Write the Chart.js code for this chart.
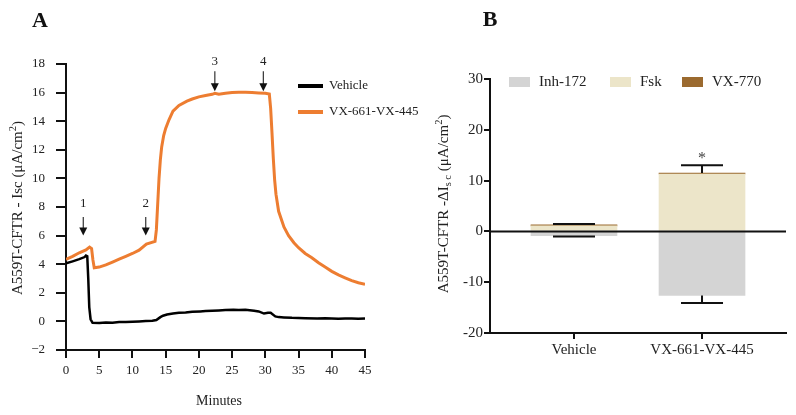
<!DOCTYPE html>
<html>
<head>
<meta charset="utf-8">
<script src="https://cdn.jsdelivr.net/npm/chart.js@4.4.1/dist/chart.umd.min.js"></script>
<style>
  html, body { margin:0; padding:0; background:#fff; }
  body { width:796px; height:415px; position:relative; overflow:hidden; }
  #cA { position:absolute; left:0; top:0; }
  #cB { position:absolute; left:400px; top:0; }
</style>
</head>
<body>
<canvas id="cA" width="430" height="415"></canvas>
<canvas id="cB" width="396" height="415"></canvas>
<script>
/* global Chart */
const SERIF = '"Liberation Serif", "Times New Roman", serif';

// ---- panel A: Isc traces (minutes, uA/cm2) ----
const vehMin = [0, 1, 2, 2.8, 3.0, 3.2, 3.35, 3.5, 3.7, 4.0, 5, 6, 7, 8, 9, 10, 11, 12, 13, 13.6, 14.2, 14.6, 15.2, 16.1, 17, 18, 19, 20.2, 21, 22, 23, 24, 25.2, 26, 27, 28.3, 29, 29.8, 30.4, 30.8, 31.5, 32, 32.8, 34, 35, 36, 37.8, 39, 40, 41, 42, 43, 44, 45];
const vehIsc = [4.06, 4.2, 4.35, 4.5, 4.6, 4.55, 3.0, 1.0, 0.15, -0.1, -0.12, -0.08, -0.1, -0.05, -0.04, -0.02, 0.0, 0.02, 0.05, 0.1, 0.3, 0.4, 0.48, 0.55, 0.6, 0.63, 0.68, 0.7, 0.72, 0.74, 0.77, 0.79, 0.82, 0.8, 0.82, 0.75, 0.7, 0.55, 0.6, 0.6, 0.35, 0.3, 0.28, 0.25, 0.24, 0.22, 0.2, 0.22, 0.2, 0.18, 0.2, 0.2, 0.19, 0.2];

const vxMin = [0, 1, 2, 3, 3.55, 3.85, 4.05, 4.25, 5, 6, 7, 8, 9, 10, 11, 12.1, 13.4, 13.6, 13.8, 14.0, 14.2, 14.4, 14.7, 15.0, 15.5, 16.1, 17, 18.2, 19, 20, 21, 22, 22.4, 23, 24, 25, 26, 27, 28, 29, 30, 30.6, 30.8, 31.0, 31.2, 31.4, 31.6, 32, 32.8, 33.5, 34.3, 35, 36, 37, 38, 39, 40, 41, 42, 43, 44, 45];
const vxIsc = [4.34, 4.55, 4.8, 5.0, 5.2, 5.1, 4.3, 3.75, 3.8, 3.95, 4.15, 4.35, 4.55, 4.75, 4.98, 5.4, 5.6, 6.4, 8.2, 10.0, 11.3, 12.2, 13.0, 13.5, 14.1, 14.7, 15.1, 15.4, 15.55, 15.7, 15.8, 15.88, 15.95, 15.88, 15.95, 16.0, 16.02, 16.02, 16.0, 15.98, 15.96, 15.9, 14.9, 13.2, 11.4, 9.9, 8.9, 7.7, 6.6, 6.0, 5.5, 5.15, 4.75, 4.45, 4.1, 3.8, 3.5, 3.25, 3.05, 2.85, 2.7, 2.6];

const arrowMin   = [2.6, 12.0, 22.4, 29.7];
const arrowTop   = [7.3, 7.3, 17.5, 17.5];
const arrowTip   = [6.0, 6.0, 16.1, 16.1];
const arrowLabel = ['1', '2', '3', '4'];
const arrowLabelY = [8.25, 8.25, 18.2, 18.2];

// ---- panel B: delta Isc bars ----
const groupX     = [1, 2];
const groupNames = ['Vehicle', 'VX-661-VX-445'];
const inhVals    = [-0.85, -12.6];
const fskVals    = [1.1, 11.3];
const vx770Vals  = [0.2, 0.2];
const errUp      = [1.45, 13.0];
const errLow     = [-1.0, -14.1];
const starY      = [null, 14.8];

function pts(xs, ys){ return xs.map((x, i) => ({ x, y: ys[i] })); }

// draws text made of parts (normal / sup / sub), centred at x,y, optionally rotated
function richText(ctx, parts, x, y, size, rot){
  ctx.save();
  ctx.translate(x, y);
  if (rot) ctx.rotate(rot);
  let w = 0;
  parts.forEach(p => {
    ctx.font = `${p.k ? size * 0.7 : size}px ${SERIF}`;
    p.w = ctx.measureText(p.t).width;
    w += p.w;
  });
  let cx = -w / 2;
  ctx.fillStyle = '#222';
  ctx.textBaseline = 'middle';
  ctx.textAlign = 'left';
  parts.forEach(p => {
    ctx.font = `${p.k ? size * 0.7 : size}px ${SERIF}`;
    const dy = p.k === 'sup' ? -size * 0.35 : p.k === 'sub' ? size * 0.3 : 0;
    ctx.fillText(p.t, cx, dy);
    cx += p.w;
  });
  ctx.restore();
}

const overlayA = {
  id: 'overlayA',
  afterDraw(chart){
    const { ctx, scales: { x, y } } = chart;
    ctx.save();
    // arrows with numbers
    arrowMin.forEach((m, i) => {
      const px = x.getPixelForValue(m);
      const top = y.getPixelForValue(arrowTop[i]);
      const tip = y.getPixelForValue(arrowTip[i]);
      ctx.strokeStyle = '#333';
      ctx.lineWidth = 1.2;
      ctx.beginPath(); ctx.moveTo(px, top); ctx.lineTo(px, tip - 7); ctx.stroke();
      ctx.fillStyle = '#111';
      ctx.beginPath(); ctx.moveTo(px - 4, tip - 8); ctx.lineTo(px + 4, tip - 8); ctx.lineTo(px, tip); ctx.closePath(); ctx.fill();
      ctx.font = `13px ${SERIF}`;
      ctx.textAlign = 'center'; ctx.textBaseline = 'middle';
      ctx.fillStyle = '#222';
      ctx.fillText(arrowLabel[i], px, y.getPixelForValue(arrowLabelY[i]));
    });
    // legend
    chart.data.datasets.forEach((ds, i) => {
      const ly = 86 + i * 26;
      ctx.strokeStyle = ds.borderColor;
      ctx.lineWidth = 4;
      ctx.beginPath(); ctx.moveTo(298, ly); ctx.lineTo(323, ly); ctx.stroke();
      ctx.font = `13px ${SERIF}`;
      ctx.fillStyle = '#222';
      ctx.textAlign = 'left'; ctx.textBaseline = 'middle';
      ctx.fillText(ds.label, 329, ly);
    });
    // panel letter and titles
    ctx.font = `bold 22px ${SERIF}`;
    ctx.fillStyle = '#111';
    ctx.textAlign = 'center'; ctx.textBaseline = 'alphabetic';
    ctx.fillText('A', 40, 27);
    ctx.font = `14px ${SERIF}`;
    ctx.fillStyle = '#222';
    ctx.textBaseline = 'middle';
    ctx.fillText('Minutes', 219, 401);
    ctx.restore();
    richText(ctx, [{ t: 'A559T-CFTR - Isc (\u03bcA/cm' }, { t: '2', k: 'sup' }, { t: ')' }], 18, 208, 15, -Math.PI / 2);
  }
};

const overlayB = {
  id: 'overlayB',
  afterDatasetsDraw(chart){
    const { ctx, chartArea, scales: { x, y } } = chart;
    ctx.save();
    // zero line across the bars
    const y0 = y.getPixelForValue(0);
    ctx.strokeStyle = '#111';
    ctx.lineWidth = 2;
    ctx.beginPath(); ctx.moveTo(chartArea.left, y0); ctx.lineTo(chartArea.right, y0); ctx.stroke();
    // error bars (SEM)
    groupX.forEach((g, i) => {
      const px = x.getPixelForValue(g);
      const topBar = y.getPixelForValue(fskVals[i] + vx770Vals[i]);
      const botBar = y.getPixelForValue(inhVals[i]);
      const up = y.getPixelForValue(errUp[i]);
      const lo = y.getPixelForValue(errLow[i]);
      ctx.beginPath();
      ctx.moveTo(px, topBar); ctx.lineTo(px, up);
      ctx.moveTo(px - 21, up); ctx.lineTo(px + 21, up);
      ctx.moveTo(px, botBar); ctx.lineTo(px, lo);
      ctx.moveTo(px - 21, lo); ctx.lineTo(px + 21, lo);
      ctx.stroke();
      if (starY[i] != null){
        ctx.font = `16px ${SERIF}`;
        ctx.fillStyle = '#444';
        ctx.textAlign = 'center'; ctx.textBaseline = 'middle';
        ctx.fillText('*', px, y.getPixelForValue(starY[i]) + 3);
      }
    });
    ctx.restore();
  },
  afterDraw(chart){
    const { ctx } = chart;
    ctx.save();
    // legend
    chart.data.datasets.forEach((ds, i) => {
      const bx = [109, 210, 282][i];
      ctx.fillStyle = ds.backgroundColor;
      ctx.fillRect(bx, 77, 21, 10);
      ctx.font = `15px ${SERIF}`;
      ctx.fillStyle = '#222';
      ctx.textAlign = 'left'; ctx.textBaseline = 'middle';
      ctx.fillText(ds.label, bx + 30, 82);
    });
    ctx.font = `bold 22px ${SERIF}`;
    ctx.fillStyle = '#111';
    ctx.textAlign = 'center'; ctx.textBaseline = 'alphabetic';
    ctx.fillText('B', 90, 26);
    ctx.restore();
    richText(ctx, [
      { t: 'A559T-CFTR -\u0394I' }, { t: 's c', k: 'sub' },
      { t: ' (\u03bcA/cm' }, { t: '2', k: 'sup' }, { t: ')' }
    ], 44, 204, 15, -Math.PI / 2);
  }
};

function axisBase(size, tickLen, pad){
  return {
    grid: { display: true, drawOnChartArea: false, drawTicks: true, tickLength: tickLen, color: '#111', lineWidth: 2, offset: false },
    border: { display: true, color: '#111', width: 2 },
    ticks: { color: '#222', font: { family: SERIF, size }, padding: pad, maxRotation: 0, autoSkip: false }
  };
}

(function init(){
  Chart.defaults.font.family = SERIF;
  Chart.defaults.color = '#222';

  const ax = axisBase(13, 8, 5);
  const ay = axisBase(13, 10, 11);
  new Chart(document.getElementById('cA'), {
    type: 'line',
    data: {
      datasets: [
        { label: 'Vehicle', data: pts(vehMin, vehIsc), borderColor: '#000', borderWidth: 2.5, pointRadius: 0 },
        { label: 'VX-661-VX-445', data: pts(vxMin, vxIsc), borderColor: '#ed7d31', borderWidth: 3, pointRadius: 0 }
      ]
    },
    options: {
      responsive: false, devicePixelRatio: 1, animation: false,
      layout: { padding: { left: 0, top: 64, right: 65, bottom: 0 } },
      plugins: { legend: { display: false }, tooltip: { enabled: false } },
      scales: {
        x: { ...ax, type: 'linear', min: 0, max: 45, afterFit: s => { s.height = 65; },
             ticks: { ...ax.ticks, stepSize: 5 } },
        y: { ...ay, min: -2, max: 18, afterFit: s => { s.width = 66; },
             ticks: { ...ay.ticks, stepSize: 2, callback: v => v < 0 ? '\u2212' + Math.abs(v) : v } }
      }
    },
    plugins: [overlayA]
  });

  const bx = axisBase(15, 6, 2);
  const by = axisBase(15, 6, 1);
  new Chart(document.getElementById('cB'), {
    type: 'bar',
    data: {
      datasets: [
        { label: 'Inh-172', data: pts(groupX, inhVals), backgroundColor: '#d4d4d4' },
        { label: 'Fsk', data: pts(groupX, fskVals), backgroundColor: '#ece5c9' },
        { label: 'VX-770', data: pts(groupX, vx770Vals), backgroundColor: '#9b6a2f' }
      ]
    },
    options: {
      responsive: false, devicePixelRatio: 1, animation: false,
      barThickness: 86,
      layout: { padding: { left: 0, top: 79, right: 10, bottom: 0 } },
      plugins: { legend: { display: false }, tooltip: { enabled: false } },
      scales: {
        x: { ...bx, type: 'linear', stacked: true, offset: false, min: 0.344, max: 2.656,
             afterBuildTicks: s => { s.ticks = groupX.map(v => ({ value: v })); },
             afterFit: s => { s.height = 82; },
             ticks: { ...bx.ticks, callback: v => groupNames[Math.round(v) - 1] } },
        y: { ...by, stacked: true, min: -20, max: 30, afterFit: s => { s.width = 90; },
             ticks: { ...by.ticks, stepSize: 10 } }
      }
    },
    plugins: [overlayB]
  });
})();
</script>
</body>
</html>
